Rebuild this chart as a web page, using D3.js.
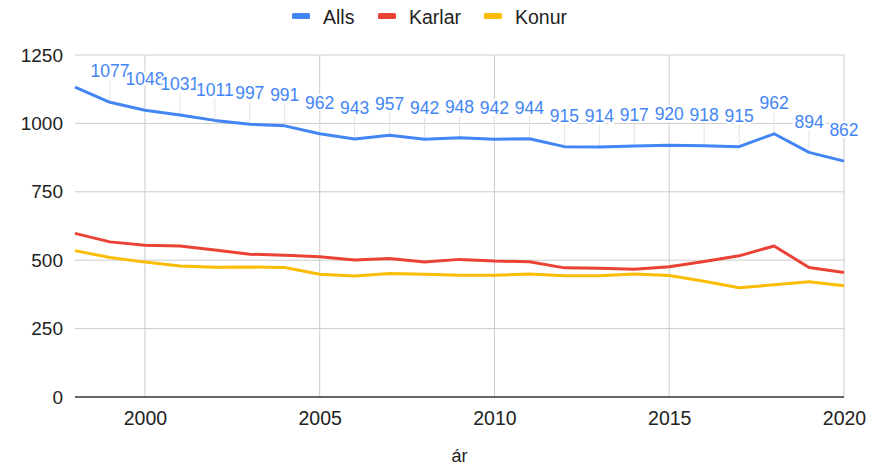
<!DOCTYPE html>
<html>
<head>
<meta charset="utf-8">
<script src="https://cdn.jsdelivr.net/npm/d3@7"></script>
<style>
  body { margin: 0; background: #fff; }
  text { font-family: Arial, "Liberation Sans", sans-serif; }
</style>
</head>
<body>
<div id="chart"></div>
<script>
const years = d3.range(1998, 2021);
const alls   = [1133, 1077, 1048, 1031, 1011, 997, 991, 962, 943, 957, 942, 948, 942, 944, 915, 914, 917, 920, 918, 915, 962, 894, 862];
const karlar = [598, 567, 555, 552, 537, 522, 518, 513, 501, 506, 493, 503, 497, 494, 472, 471, 467, 476, 495, 516, 552, 473, 455];
const konur  = [535, 510, 493, 479, 474, 475, 473, 449, 442, 451, 449, 445, 445, 450, 443, 443, 450, 444, 423, 399, 410, 421, 407];
const yTicks = [0, 250, 500, 750, 1000, 1250];
const xTicks = [2000, 2005, 2010, 2015, 2020];

const series = [
  { name: "Alls", values: alls, color: "#4285f4" },
  { name: "Karlar", values: karlar, color: "#ea4335" },
  { name: "Konur", values: konur, color: "#fbbc04" }
];

var width = 884, height = 473;
var margin = { top: 55, right: 40, bottom: 76, left: 75 };

var svg = d3.select("#chart").append("svg")
  .attr("width", width)
  .attr("height", height);

var x = d3.scaleLinear().domain([1998, 2020]).range([margin.left, width - margin.right]);
var y = d3.scaleLinear().domain([0, 1250]).range([height - margin.bottom, margin.top]);

// horizontal gridlines
svg.append("g").selectAll("line")
  .data(yTicks.filter(d => d > 0))
  .enter().append("line")
  .attr("x1", x(1998)).attr("x2", x(2020))
  .attr("y1", d => y(d)).attr("y2", d => y(d))
  .attr("stroke", "#cccccc").attr("stroke-width", 1);

// vertical gridlines
svg.append("g").selectAll("line")
  .data(xTicks)
  .enter().append("line")
  .attr("x1", d => x(d)).attr("x2", d => x(d))
  .attr("y1", y(1250)).attr("y2", y(0))
  .attr("stroke", "#cccccc").attr("stroke-width", 1);

// y axis labels
var yAxis = d3.axisLeft(y).tickValues(yTicks).tickFormat(d3.format("d")).tickSize(0).tickPadding(12);
var gy = svg.append("g")
  .attr("transform", "translate(" + margin.left + ",0)")
  .call(yAxis);
gy.select(".domain").remove();
gy.selectAll("text").style("font-size", "19px").attr("fill", "#222");

// x axis labels
var xAxis = d3.axisBottom(x).tickValues(xTicks).tickFormat(d3.format("d")).tickSize(0);
var gx = svg.append("g")
  .attr("transform", "translate(0," + y(0) + ")")
  .call(xAxis);
gx.select(".domain").remove();
gx.selectAll("text")
  .attr("y", 21).attr("dy", "0.35em")
  .style("font-size", "19.5px").attr("fill", "#222");

// baseline
svg.append("line")
  .attr("x1", x(1998)).attr("x2", x(2020))
  .attr("y1", y(0)).attr("y2", y(0))
  .attr("stroke", "#333").attr("stroke-width", 1.5);

// annotation stems for Alls (first point has no label)
var stemData = years.map((yr, i) => ({ yr: yr, v: alls[i] })).slice(1);
svg.append("g").selectAll("line")
  .data(stemData)
  .enter().append("line")
  .attr("x1", d => x(d.yr)).attr("x2", d => x(d.yr))
  .attr("y1", d => y(d.v)).attr("y2", d => y(d.v) - 22)
  .attr("stroke", "#e3e3e3").attr("stroke-width", 1);

// lines
var line = d3.line()
  .x((d, i) => x(years[i]))
  .y(d => y(d));

svg.append("g").selectAll("path")
  .data(series.slice().reverse())
  .enter().append("path")
  .attr("d", d => line(d.values))
  .attr("fill", "none")
  .attr("stroke", d => d.color)
  .attr("stroke-width", 3)
  .attr("stroke-linejoin", "round");

// Alls annotations
svg.append("g").selectAll("text")
  .data(stemData)
  .enter().append("text")
  .attr("x", d => x(d.yr))
  .attr("y", d => y(d.v) - 31)
  .attr("dy", "0.35em")
  .attr("text-anchor", "middle")
  .style("font-size", "17.5px")
  .attr("fill", "#4285f4")
  .attr("stroke", "#fff")
  .attr("stroke-width", 4)
  .attr("paint-order", "stroke")
  .text(d => d.v);

// legend
var legendX = [292, 378, 484];
var legend = svg.append("g").selectAll("g")
  .data(series)
  .enter().append("g")
  .attr("transform", (d, i) => "translate(" + legendX[i] + ",16)");
legend.append("rect")
  .attr("x", 0).attr("y", -3)
  .attr("width", 18).attr("height", 6)
  .attr("rx", 1.5)
  .attr("fill", d => d.color);
legend.append("text")
  .attr("x", 31).attr("y", 1).attr("dy", "0.35em")
  .style("font-size", "19.5px")
  .attr("fill", "#222")
  .text(d => d.name);

// x axis title
svg.append("text")
  .attr("x", (x(1998) + x(2020)) / 2)
  .attr("y", 462)
  .attr("text-anchor", "middle")
  .style("font-size", "18px")
  .attr("fill", "#222")
  .text("ár");
</script>
</body>
</html>
